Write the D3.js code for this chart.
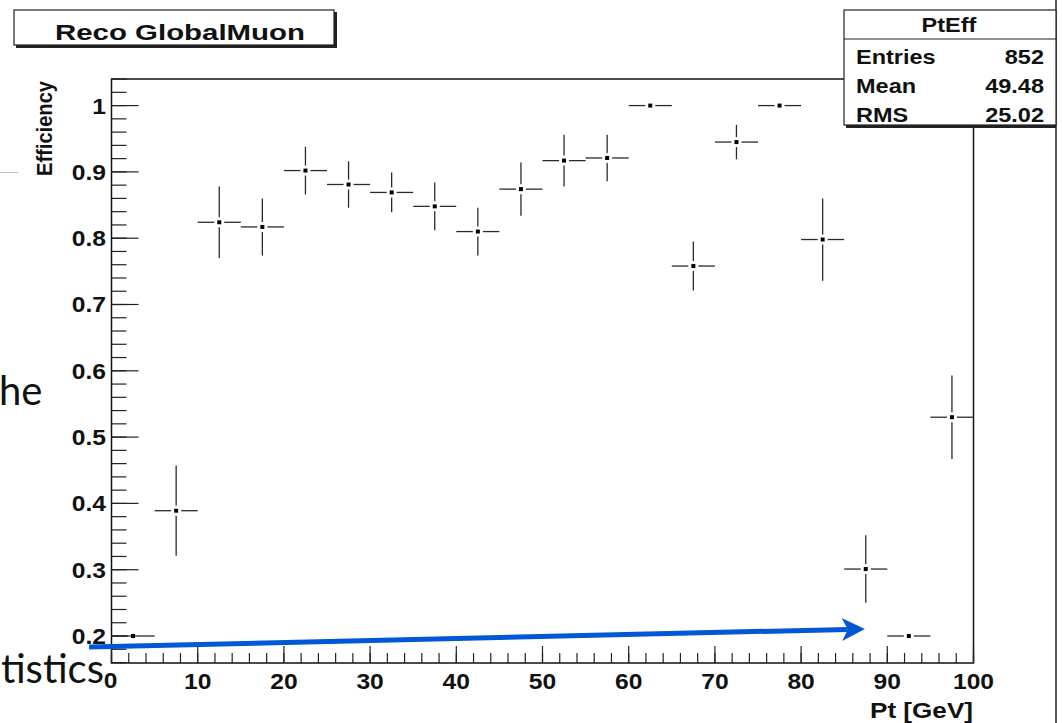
<!DOCTYPE html>
<html>
<head>
<meta charset="utf-8">
<script src="https://cdn.jsdelivr.net/npm/d3@7"></script>
<style>
  html, body { margin: 0; padding: 0; background: #fff; }
  svg { display: block; }
</style>
</head>
<body>
<svg id="chart" width="1062" height="723"></svg>
<script>
// ---- data ----
const binCenters = [2.5, 7.5, 12.5, 17.5, 22.5, 27.5, 32.5, 37.5, 42.5, 47.5,
                    52.5, 57.5, 62.5, 67.5, 72.5, 77.5, 82.5, 87.5, 92.5, 97.5];
const efficiency = [0.200, 0.389, 0.824, 0.817, 0.902, 0.881, 0.869, 0.848, 0.810, 0.874,
                    0.917, 0.921, 1.000, 0.758, 0.945, 1.000, 0.798, 0.301, 0.200, 0.530];
const effError   = [0.000, 0.068, 0.054, 0.043, 0.036, 0.035, 0.030, 0.036, 0.036, 0.040,
                    0.039, 0.035, 0.000, 0.037, 0.026, 0.000, 0.062, 0.051, 0.000, 0.063];
const binHalfWidth = 2.5;
const xTicks = [0, 10, 20, 30, 40, 50, 60, 70, 80, 90, 100];
const yTicks = [0.2, 0.3, 0.4, 0.5, 0.6, 0.7, 0.8, 0.9, 1.0];
const titleText = "Reco GlobalMuon";
const statsTitle = "PtEff";
const statsNames = ["Entries", "Mean", "RMS"];
const statsValues = ["852", "49.48", "25.02"];
const xLabel = "Pt [GeV]";
const yLabel = "Efficiency";
const arrowFrom = [-2.6, 0.1834];
const arrowTo = [87.4, 0.2106];

// ---- layout ----
const svg = d3.select("#chart");
const frame = { left: 111.5, right: 973.5, top: 79, bottom: 663 };
const x = d3.scaleLinear().domain([0, 100]).range([frame.left, frame.right]);
const y = d3.scaleLinear().domain([0.1593, 1.0401]).range([frame.bottom, frame.top]);
const FONT = "'Liberation Sans', Arial, Helvetica, sans-serif";
const SX = 1.12; // horizontal stretch of the original picture

svg.append("rect").attr("width", 1062).attr("height", 723).attr("fill", "#fff");

// slide fragments behind
svg.append("line").attr("x1", 0).attr("x2", 18).attr("y1", 172.5).attr("y2", 172.5)
  .attr("stroke", "#bbb").attr("stroke-width", 1);
svg.append("text").attr("x", -1).attr("y", 405).text("he")
  .attr("font-family", "Lato, 'Open Sans', sans-serif").attr("font-size", 40).attr("fill", "#111");
svg.append("text").attr("x", 104).attr("y", 683).attr("text-anchor", "end").text("tistics")
  .attr("font-family", "Lato, 'Open Sans', sans-serif").attr("font-size", 40).attr("fill", "#111");

// canvas right border
svg.append("line").attr("x1", 1056).attr("x2", 1056).attr("y1", 0).attr("y2", 723)
  .attr("stroke", "#222").attr("stroke-width", 1.5);

// frame
svg.append("rect").attr("x", frame.left).attr("y", frame.top)
  .attr("width", frame.right - frame.left).attr("height", frame.bottom - frame.top)
  .attr("fill", "none").attr("stroke", "#111").attr("stroke-width", 1.5);

// y ticks
const yMinor = d3.range(16, 105, 2).map(v => v / 100).filter(v => v >= 0.1593 && v <= 1.0401);
svg.append("g").selectAll("line").data(yMinor).join("line")
  .attr("x1", frame.left).attr("x2", frame.left + 15)
  .attr("y1", d => y(d)).attr("y2", d => y(d))
  .attr("stroke", "#222").attr("stroke-width", 1.2);
svg.append("g").selectAll("line").data(yTicks).join("line")
  .attr("x1", frame.left).attr("x2", frame.left + 27)
  .attr("y1", d => y(d)).attr("y2", d => y(d))
  .attr("stroke", "#222").attr("stroke-width", 1.2);
svg.append("g").selectAll("text").data(yTicks).join("text")
  .attr("transform", d => `translate(106,${y(d) + 8}) scale(${SX},1)`)
  .attr("text-anchor", "end").attr("font-family", FONT).attr("font-weight", "bold")
  .attr("font-size", 22).attr("fill", "#111")
  .text(d => d3.format("~g")(d));

// x ticks
const xMinor = d3.range(0, 101, 2);
svg.append("g").selectAll("line").data(xMinor).join("line")
  .attr("x1", d => x(d)).attr("x2", d => x(d))
  .attr("y1", frame.bottom).attr("y2", frame.bottom - 10)
  .attr("stroke", "#222").attr("stroke-width", 1.2);
svg.append("g").selectAll("line").data(xTicks).join("line")
  .attr("x1", d => x(d)).attr("x2", d => x(d))
  .attr("y1", frame.bottom).attr("y2", frame.bottom - 17)
  .attr("stroke", "#222").attr("stroke-width", 1.2);
svg.append("g").selectAll("text").data(xTicks).join("text")
  .attr("transform", d => `translate(${x(d) - (d === 0 ? 1 : 0)},${d === 0 ? 688 : 689}) scale(${SX},1)`)
  .attr("text-anchor", "middle").attr("font-family", FONT).attr("font-weight", "bold")
  .attr("font-size", 22).attr("fill", "#111")
  .text(d => d);

// axis titles
svg.append("text").attr("x", 973).attr("y", 717.5).attr("text-anchor", "end")
  .attr("font-family", FONT).attr("font-weight", "bold").attr("font-size", 22)
  .attr("textLength", 103).attr("lengthAdjust", "spacingAndGlyphs").attr("fill", "#111")
  .text(xLabel);
svg.append("text").attr("transform", "translate(52,81) rotate(-90)")
  .attr("text-anchor", "end")
  .attr("font-family", FONT).attr("font-weight", "bold").attr("font-size", 22)
  .attr("textLength", 95).attr("lengthAdjust", "spacingAndGlyphs").attr("fill", "#111")
  .text(yLabel);

// data points with error bars
const points = binCenters.map((c, i) => ({ c, v: efficiency[i], e: effError[i] }));
const gap = 5;
const gPts = svg.append("g");
const errColor = "#2a2a2a";
gPts.selectAll("line.hl").data(points).join("line").attr("class", "hl")
  .attr("x1", d => x(d.c - binHalfWidth)).attr("x2", d => x(d.c) - gap)
  .attr("y1", d => y(d.v)).attr("y2", d => y(d.v))
  .attr("stroke", errColor).attr("stroke-width", 1.3);
gPts.selectAll("line.hr").data(points).join("line").attr("class", "hr")
  .attr("x1", d => x(d.c) + gap).attr("x2", d => x(d.c + binHalfWidth))
  .attr("y1", d => y(d.v)).attr("y2", d => y(d.v))
  .attr("stroke", errColor).attr("stroke-width", 1.3);
const withErr = points.filter(d => y(d.v) - y(d.v + d.e) > gap);
gPts.selectAll("line.vu").data(withErr).join("line").attr("class", "vu")
  .attr("x1", d => x(d.c)).attr("x2", d => x(d.c))
  .attr("y1", d => y(d.v + d.e)).attr("y2", d => y(d.v) - gap)
  .attr("stroke", errColor).attr("stroke-width", 1.3);
gPts.selectAll("line.vd").data(withErr).join("line").attr("class", "vd")
  .attr("x1", d => x(d.c)).attr("x2", d => x(d.c))
  .attr("y1", d => y(d.v) + gap).attr("y2", d => y(d.v - d.e))
  .attr("stroke", errColor).attr("stroke-width", 1.3);
gPts.selectAll("rect").data(points).join("rect")
  .attr("x", d => x(d.c) - 2).attr("y", d => y(d.v) - 2)
  .attr("width", 4).attr("height", 4).attr("fill", "#000");

// title box
const tb = svg.append("g");
tb.append("rect").attr("x", 16).attr("y", 12).attr("width", 321).attr("height", 36).attr("fill", "#222");
tb.append("rect").attr("x", 14).attr("y", 10).attr("width", 320).attr("height", 35)
  .attr("fill", "#fff").attr("stroke", "#222").attr("stroke-width", 1.2);
tb.append("text").attr("x", 180).attr("y", 39.5).attr("text-anchor", "middle")
  .attr("font-family", FONT).attr("font-weight", "bold").attr("font-size", 22)
  .attr("textLength", 250).attr("lengthAdjust", "spacingAndGlyphs").attr("fill", "#111")
  .text(titleText);

// stats box
const sb = svg.append("g");
sb.append("rect").attr("x", 846).attr("y", 12).attr("width", 210).attr("height", 116).attr("fill", "#222");
sb.append("rect").attr("x", 844).attr("y", 10).attr("width", 212).attr("height", 115)
  .attr("fill", "#fff").attr("stroke", "#222").attr("stroke-width", 1.2);
sb.append("line").attr("x1", 844).attr("x2", 1056).attr("y1", 39).attr("y2", 39)
  .attr("stroke", "#222").attr("stroke-width", 1.2);
sb.append("text").attr("transform", `translate(949,31.5) scale(${SX},1)`).attr("text-anchor", "middle")
  .attr("font-family", FONT).attr("font-weight", "bold").attr("font-size", 21).attr("fill", "#111")
  .text(statsTitle);
const rowY = [64, 93, 121.5];
sb.selectAll("text.nm").data(statsNames).join("text").attr("class", "nm")
  .attr("transform", (d, i) => `translate(856,${rowY[i]}) scale(${SX},1)`)
  .attr("font-family", FONT).attr("font-weight", "bold").attr("font-size", 21).attr("fill", "#111")
  .text(d => d);
sb.selectAll("text.vl").data(statsValues).join("text").attr("class", "vl")
  .attr("transform", (d, i) => `translate(1044,${rowY[i]}) scale(${SX},1)`)
  .attr("text-anchor", "end")
  .attr("font-family", FONT).attr("font-weight", "bold").attr("font-size", 21).attr("fill", "#111")
  .text(d => d);

// blue arrow annotation
const blue = "#0057d8";
const ax0 = x(arrowFrom[0]), ay0 = y(arrowFrom[1]);
const ax1 = x(arrowTo[0]), ay1 = y(arrowTo[1]);
const ang = Math.atan2(ay1 - ay0, ax1 - ax0);
const headLen = 23, headHalf = 11.5, notch = 6;
const ux = Math.cos(ang), uy = Math.sin(ang), nx = -uy, ny = ux;
const bx = ax1 - ux * headLen, by = ay1 - uy * headLen;
svg.append("line").attr("x1", ax0).attr("y1", ay0)
  .attr("x2", bx + ux * notch).attr("y2", by + uy * notch)
  .attr("stroke", blue).attr("stroke-width", 5);
svg.append("path")
  .attr("d", `M${ax1},${ay1} L${bx + nx * headHalf},${by + ny * headHalf} L${bx + ux * notch},${by + uy * notch} L${bx - nx * headHalf},${by - ny * headHalf} Z`)
  .attr("fill", blue);
</script>
</body>
</html>
